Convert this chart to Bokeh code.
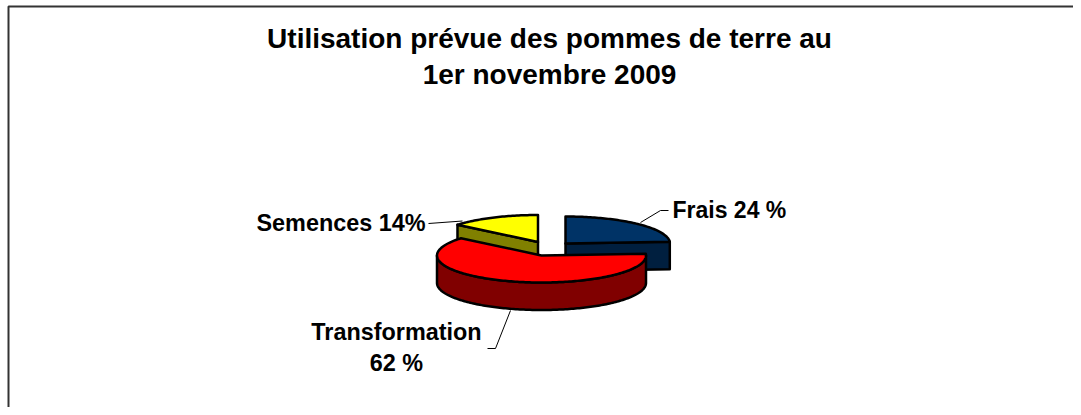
import math
from bokeh.plotting import figure
from bokeh.core.properties import value
from bokeh.embed import file_html
from bokeh.resources import INLINE

categories = ["Frais", "Transformation", "Semences"]
shares = [24, 62, 14]
slice_top = ["#003366", "#FF0000", "#FFFF00"]
slice_side = ["#001F3F", "#800000", "#808000"]
title_lines = ["Utilisation prévue des pommes de terre au", "1er novembre 2009"]

FONT = "Liberation Sans"
RX, RY, DEPTH = 104.5, 27, 27.5
CENTRES = [(565, 243), (541, 255), (537.5, 241.5)]

p = figure(width=1073, height=407, x_range=(0, 1073), y_range=(407, 0),
           output_backend="svg", toolbar_location=None, min_border=0,
           outline_line_color=None, background_fill_color="white")
p.axis.visible = False
p.grid.visible = False


def pt(c, a):
    return c[0] + RX * math.sin(a), c[1] - RY * math.cos(a)


def arc(c, a0, a1, dy=0):
    n = max(2, int(abs(a1 - a0) / 0.02))
    pts = [pt(c, a0 + (a1 - a0) * i / n) for i in range(n + 1)]
    return [q[0] for q in pts], [q[1] + dy for q in pts]


total = sum(shares)
edges = [0]
for s in shares:
    edges.append(edges[-1] + s / total * 2 * math.pi)

BLACK = dict(line_color="black", line_width=2.5, line_join="round")


def draw(i):
    c, a0, a1 = CENTRES[i], edges[i], edges[i + 1]
    if i == 0:
        e = pt(c, a1)
        p.patch([c[0], e[0], e[0], c[0]], [c[1], e[1], e[1] + DEPTH, c[1] + DEPTH],
                fill_color=slice_side[i], **BLACK)
    if i == 2:
        e = pt(c, a0)
        p.patch([e[0], c[0], c[0], e[0]], [e[1], c[1], c[1] + DEPTH, e[1] + DEPTH],
                fill_color=slice_side[i], **BLACK)
    lo, hi = max(a0, math.pi / 2), min(a1, 3 * math.pi / 2)
    if hi > lo:
        xt, yt = arc(c, lo, hi)
        xb, yb = arc(c, lo, hi, DEPTH)
        p.patch(xt + xb[::-1], yt + yb[::-1], fill_color=slice_side[i], **BLACK)
    xa, ya = arc(c, a0, a1)
    p.patch([c[0]] + xa, [c[1]] + ya, fill_color=slice_top[i], **BLACK)


for i in (2, 0, 1):
    draw(i)

# chart frame (top and left only)
p.line([8, 8, 1073], [407, 6, 6], line_color="#333333", line_width=2)

THIN = dict(line_color="black", line_width=1)
p.line([640, 660, 668], [222, 210, 210], **THIN)
p.line([428, 462], [223, 220.5], **THIN)
p.line([510, 495, 487], [310, 348, 348], **THIN)

bold = dict(text_font=value(FONT), text_font_style="bold", text_color="black",
            text_baseline="alphabetic")
p.text([549, 549], [38, 74], text=title_lines, text_align="center",
       text_font_size="28px", **bold)
p.text([672], [209.5], text=[f"{categories[0]} {shares[0]} %"], text_align="left",
       text_font_size="23px", **bold)
p.text([256], [222.5], text=[f"{categories[2]} {shares[2]}%"], text_align="left",
       text_font_size="23.4px", **bold)
p.text([396, 396], [331.5, 362], text=[categories[1], f"{shares[1]} %"], text_align="center",
       text_font_size="23.4px", **bold)

open("out.html", "w").write(file_html(p, INLINE))
